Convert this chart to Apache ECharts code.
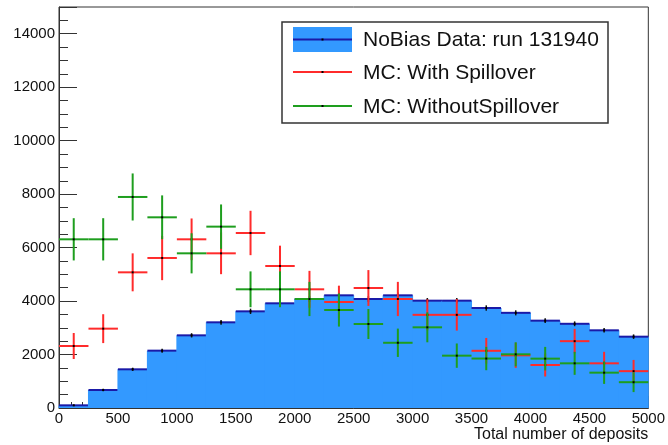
<!DOCTYPE html>
<html>
<head>
<meta charset="utf-8">
<script src="https://cdn.jsdelivr.net/npm/echarts@6/dist/echarts.min.js"></script>
<style>
  html, body { margin: 0; padding: 0; background: #fff; }
  #chart { width: 668px; height: 445px; }
</style>
</head>
<body>
<div id="chart"></div>
<script>
// bins of 250 deposits
var binStarts = [0, 250, 500, 750, 1000, 1250, 1500, 1750, 2000, 2250,
  2500, 2750, 3000, 3250, 3500, 3750, 4000, 4250, 4500, 4750];
var binWidth = 250;

// NoBias data: run 131940
var dataValues = [100, 673, 1447, 2145, 2718, 3205, 3616, 3916, 4078, 4215,
  4078, 4215, 4015, 4015, 3740, 3560, 3267, 3150, 2906, 2668];
var dataErrors = [20, 50, 60, 75, 80, 90, 100, 100, 105, 105,
  105, 105, 100, 100, 100, 95, 90, 90, 85, 85];

// MC: With Spillover
var withValues = [2319, 2968, 5075, 5612, 6310, 5786, 6547, 5312, 4440, 3966,
  4489, 4078, 3485, 3485, 2140, 1970, 1608, 2500, 1671, 1378];
var withErrors = [486, 540, 710, 830, 780, 780, 830, 760, 690, 610,
  670, 640, 580, 590, 480, 470, 430, 460, 430, 420];

// MC: WithoutSpillover
var withoutValues = [6310, 6310, 7894, 7133, 5786, 6784, 4440, 4440, 4078, 3666,
  3142, 2440, 3018, 1958, 1850, 2008, 1846, 1671, 1322, 965];
var withoutErrors = [790, 790, 880, 820, 750, 830, 670, 670, 640, 620,
  560, 530, 560, 455, 437, 450, 440, 430, 420, 370];

var legendNames = ["NoBias Data: run 131940", "MC: With Spillover", "MC: WithoutSpillover"];

var fontFamily = "Liberation Sans, Arial, Helvetica, sans-serif";
var fillBlue = "#3399ff";
var lineBlue = "#1a1aa8";
var red = "#ff2b2b";
var green = "#1e9e1e";

function rows(values, errors) {
  return binStarts.map(function (x0, i) {
    return [x0, x0 + binWidth, values[i], errors[i]];
  });
}

// histogram drawn as filled bins + error crosses
function fillItem(params, api) {
  var x0 = api.value(0), x1 = api.value(1), y = api.value(2), e = api.value(3);
  var xc = (x0 + x1) / 2;
  var pBase = api.coord([x0, 0]);
  var pTop = api.coord([x1, y]);
  var pL = api.coord([x0, y]);
  var pC = api.coord([xc, y]);
  var pHi = api.coord([xc, y + e]);
  var pLo = api.coord([xc, y - e]);
  return {
    type: "group",
    children: [
      { type: "rect", shape: { x: pL[0] - 0.5, y: pTop[1], width: pTop[0] - pL[0] + 1, height: pBase[1] - pTop[1] },
        style: { fill: fillBlue } },
      { type: "line", shape: { x1: pL[0], y1: pL[1], x2: pTop[0], y2: pTop[1] },
        style: { stroke: lineBlue, lineWidth: 2 } },
      { type: "line", shape: { x1: pHi[0], y1: pHi[1], x2: pLo[0], y2: pLo[1] },
        style: { stroke: "#111", lineWidth: 1.5 } },
      { type: "rect", shape: { x: pC[0] - 1, y: pC[1] - 1, width: 2, height: 2 }, style: { fill: "#000" } }
    ]
  };
}

function crossItem(color) {
  return function (params, api) {
    var x0 = api.value(0), x1 = api.value(1), y = api.value(2), e = api.value(3);
    var xc = (x0 + x1) / 2;
    var pL = api.coord([x0, y]);
    var pR = api.coord([x1, y]);
    var pC = api.coord([xc, y]);
    var pHi = api.coord([xc, y + e]);
    var pLo = api.coord([xc, y - e]);
    return {
      type: "group",
      children: [
        { type: "line", shape: { x1: pL[0], y1: pL[1], x2: pR[0], y2: pR[1] },
          style: { stroke: color, lineWidth: 2 } },
        { type: "line", shape: { x1: pHi[0], y1: pHi[1], x2: pLo[0], y2: pLo[1] },
          style: { stroke: color, lineWidth: 2 } },
        { type: "rect", shape: { x: pC[0] - 1, y: pC[1] - 1, width: 2, height: 2 }, style: { fill: "#000" } }
      ]
    };
  };
}

function plainNumber(v) {
  return String(v);
}

var myChart = echarts.init(document.getElementById("chart"));

var option = {
  animation: false,
  backgroundColor: "#fff",
  textStyle: { fontFamily: fontFamily },
  grid: { left: 59, right: 16, top: 7, bottom: 37, show: true, borderColor: "#333", borderWidth: 1 },
  xAxis: {
    type: "value",
    min: 0,
    max: 5000,
    interval: 500,
    name: "Total number of deposits",
    nameLocation: "end",
    nameGap: 0,
    nameTextStyle: { fontSize: 16, color: "#111", align: "right", verticalAlign: "top", padding: [19, 0, 0, 0] },
    axisLine: { show: true, lineStyle: { color: "#333", width: 1 } },
    axisTick: { inside: true, length: 12, lineStyle: { color: "#333" } },
    minorTick: { show: true, splitNumber: 5, length: 6, lineStyle: { color: "#333" } },
    splitLine: { show: false },
    axisLabel: { fontSize: 15, color: "#111", margin: 3, formatter: plainNumber }
  },
  yAxis: {
    type: "value",
    min: 0,
    max: 15000,
    interval: 2000,
    axisLine: { show: true, lineStyle: { color: "#333", width: 1 } },
    axisTick: { inside: true, length: 18, lineStyle: { color: "#333" } },
    minorTick: { show: true, splitNumber: 4, length: 9, lineStyle: { color: "#333" } },
    splitLine: { show: false },
    axisLabel: { fontSize: 15, color: "#111", margin: 4, showMaxLabel: false, formatter: plainNumber }
  },
  series: [
    { name: legendNames[0], type: "custom", renderItem: fillItem, data: rows(dataValues, dataErrors), z: 1 },
    { name: legendNames[1], type: "custom", renderItem: crossItem(red), data: rows(withValues, withErrors), z: 2 },
    { name: legendNames[2], type: "custom", renderItem: crossItem(green), data: rows(withoutValues, withoutErrors), z: 3 }
  ],
  graphic: [
    { type: "rect", z: 10, shape: { x: 282, y: 22, width: 326, height: 101 },
      style: { fill: "#fff", stroke: "#333", lineWidth: 1.5 } },
    { type: "rect", z: 11, shape: { x: 293, y: 27, width: 59, height: 25 }, style: { fill: fillBlue } },
    { type: "line", z: 12, shape: { x1: 293, y1: 39.5, x2: 352, y2: 39.5 }, style: { stroke: lineBlue, lineWidth: 2 } },
    { type: "line", z: 12, shape: { x1: 293, y1: 72, x2: 352, y2: 72 }, style: { stroke: red, lineWidth: 2 } },
    { type: "line", z: 12, shape: { x1: 293, y1: 106, x2: 352, y2: 106 }, style: { stroke: green, lineWidth: 2 } },
    { type: "rect", z: 13, shape: { x: 321.5, y: 38.5, width: 2, height: 2 }, style: { fill: "#000" } },
    { type: "rect", z: 13, shape: { x: 321.5, y: 71, width: 2, height: 2 }, style: { fill: "#000" } },
    { type: "rect", z: 13, shape: { x: 321.5, y: 105, width: 2, height: 2 }, style: { fill: "#000" } },
    { type: "text", z: 12, x: 363, y: 40,
      style: { text: legendNames[0], font: "21px " + fontFamily, fill: "#111", verticalAlign: "middle" } },
    { type: "text", z: 12, x: 363, y: 73,
      style: { text: legendNames[1], font: "21px " + fontFamily, fill: "#111", verticalAlign: "middle" } },
    { type: "text", z: 12, x: 363, y: 107,
      style: { text: legendNames[2], font: "21px " + fontFamily, fill: "#111", verticalAlign: "middle" } }
  ]
};

myChart.setOption(option);
</script>
</body>
</html>
